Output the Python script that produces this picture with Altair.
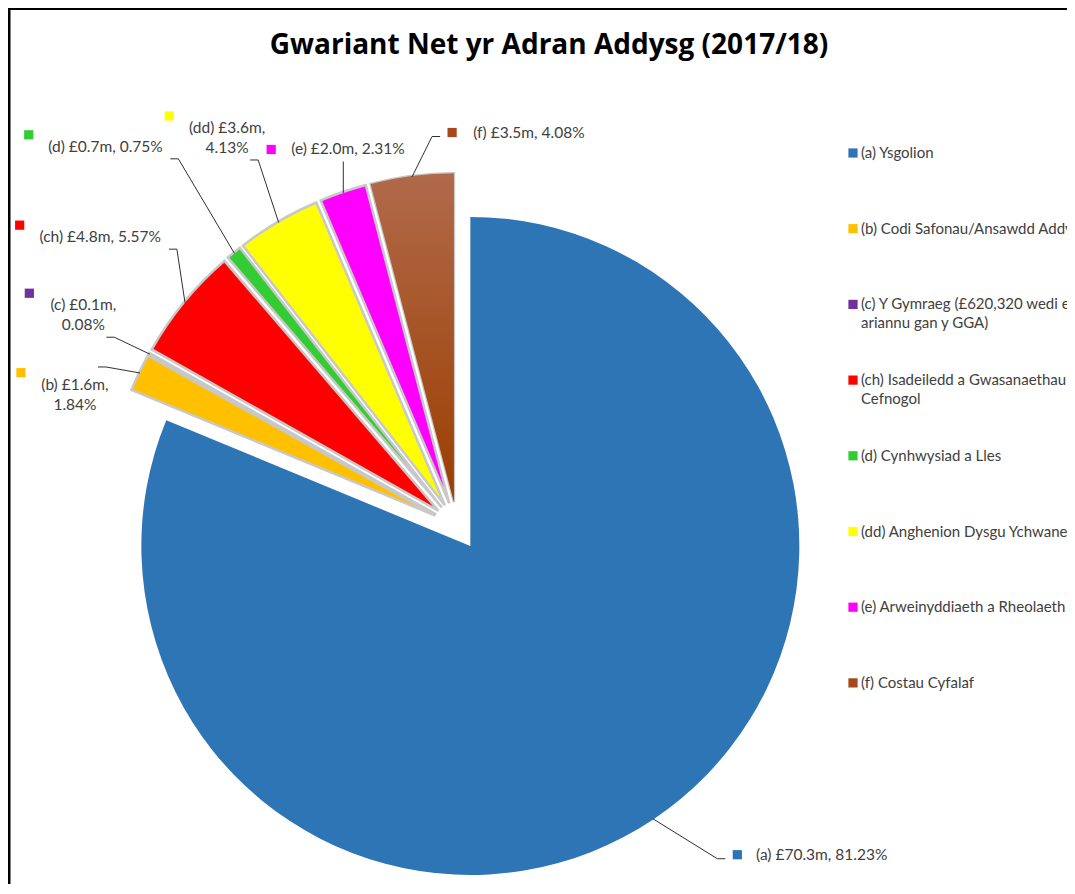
import math
import altair as alt
import pandas as pd

# ---------------- data ----------------
codes = ["(a)", "(b)", "(c)", "(ch)", "(d)", "(dd)", "(e)", "(f)"]
names = [
    "Ysgolion",
    "Codi Safonau/Ansawdd Addysg",
    "Y Gymraeg (£620,320 wedi ei\nariannu gan y GGA)",
    "Isadeiledd a Gwasanaethau\nCefnogol",
    "Cynhwysiad a Lles",
    "Anghenion Dysgu Ychwanegol",
    "Arweinyddiaeth a Rheolaeth",
    "Costau Cyfalaf",
]
spend_m = [70.3, 1.6, 0.1, 4.8, 0.7, 3.6, 2.0, 3.5]
share_pct = [81.23, 1.84, 0.08, 5.57, 0.75, 4.13, 2.31, 4.08]
colors = ["#2E75B6", "#FFC000", "#7030A0", "#FF0000", "#33CC33", "#FFFF00", "#FF00FF", "#A5481C"]
title_text = "Gwariant Net yr Adran Addysg (2017/18)"

# ---------------- layout (chart pixel coordinates) ----------------
W, H = 1059, 876
CX, CY = 449, 518          # pie centre
RADIUS = 329
EXPLODE = 24
LEADER_R = RADIUS + EXPLODE - 1
FONT = "Lato"
LBL_SIZE = 15.5
CHAR_W = 7.6
LINE_H = 20
label_shift_deg = {"(a)": -14.2, "(b)": -6.8, "(c)": 0.2, "(ch)": -0.4,
                   "(d)": -3.6, "(dd)": -0.2, "(e)": 2.7, "(f)": 17.7}
label_dist = {"(a)": 491, "(b)": 404, "(c)": 429, "(ch)": 459,
              "(d)": 517, "(dd)": 451, "(e)": 392, "(f)": 400}
two_line = {"(b)", "(c)", "(dd)"}
key_above = {"(b)", "(c)", "(ch)", "(d)", "(dd)"}
LEG_X, LEG_Y0, LEG_STEP = 845, 145, 75.7

total = sum(share_pct)
arc_rows, lead_rows, lbl_rows, key_rows, leg_rows = [], [], [], [], []
cum = 0.0
for i, (c, v, p) in enumerate(zip(codes, spend_m, share_pct)):
    start, end = cum, cum + p
    cum = end
    mid = (start + end) / 2 / total * 2 * math.pi
    sx, sy = math.sin(mid), -math.cos(mid)
    arc_rows.append(dict(code=c, idx=i, start=start, end=end,
                         cx=CX + EXPLODE * sx, cy=CY + EXPLODE * sy))
    sep = "\n" if c in two_line else " "
    text = f"{c} £{v:.1f}m,{sep}{p:.2f}%"
    lines = text.split("\n")
    n = len(lines)
    la = mid + math.radians(label_shift_deg[c])
    tcx = CX + label_dist[c] * math.sin(la)
    tcy = CY - label_dist[c] * math.cos(la)
    halfw = max(len(s) for s in lines) * CHAR_W / 2
    first_y = tcy - (n - 1) * LINE_H / 2
    last_y = first_y + (n - 1) * LINE_H
    lbl_rows.append(dict(code=c, text=text, tx=tcx, ty=first_y + 5))
    left = tcx - halfw
    key_rows.append(dict(code=c, kx=left - 16, ky=first_y - (12 if c in key_above else 0)))
    Sx, Sy = CX + LEADER_R * sx, CY + LEADER_R * sy
    pts = [(Sx, Sy)]
    if left > Sx:
        ex, ey = left - 28, first_y + 4
        pts += [(ex - 8, ey), (ex, ey)]
    elif abs(tcx - Sx) < halfw:
        pts += [(Sx, last_y + 12)]
    else:
        last_right = tcx + len(lines[-1]) * CHAR_W / 2
        ex = last_right + 4
        ey = min(last_y + 12, Sy - 6)
        pts += [(ex + 8, ey), (ex, ey)]
    for k, (px, py) in enumerate(pts):
        lead_rows.append(dict(code=c, seq=k, lx=px, ly=py))
    leg_rows.append(dict(code=c, name=f"{c} {names[i]}", gx=LEG_X,
                         gy=LEG_Y0 + i * LEG_STEP))

arcs = pd.DataFrame(arc_rows)
leads = pd.DataFrame(lead_rows)
lbls = pd.DataFrame(lbl_rows)
keys = pd.DataFrame(key_rows)
leg = pd.DataFrame(leg_rows)

color = alt.Color("code:N", scale=alt.Scale(domain=codes, range=colors), legend=None)
theta = alt.Theta("start:Q", scale=alt.Scale(domain=[0, total], range=[0, 2 * math.pi]))

pie = alt.Chart(arcs).mark_arc(outerRadius=RADIUS, stroke="#C8C8C8").encode(
    theta=theta, theta2="end:Q",
    x=alt.X("cx:Q", scale=None, stack=False),
    y=alt.Y("cy:Q", scale=None, stack=False),
    color=color,
    strokeWidth=alt.condition(alt.datum.code == "(a)", alt.value(0), alt.value(2.5)),
)

brown = alt.Chart(arcs).transform_filter(alt.datum.code == "(f)").mark_arc(
    outerRadius=RADIUS,
    fill=alt.LinearGradient(gradient="linear", x1=0, x2=0, y1=0, y2=1,
                            stops=[alt.GradientStop(color="#B06A4A", offset=0),
                                   alt.GradientStop(color="#9C3E00", offset=1)]),
).encode(theta=theta, theta2="end:Q",
         x=alt.X("cx:Q", scale=None, stack=False),
         y=alt.Y("cy:Q", scale=None, stack=False))

leaders = alt.Chart(leads).mark_line(color="#303030", strokeWidth=1).encode(
    x=alt.X("lx:Q", scale=None, stack=False),
    y=alt.Y("ly:Q", scale=None, stack=False),
    detail="code:N", order="seq:Q",
)

labels = alt.Chart(lbls).mark_text(
    align="center", baseline="alphabetic", lineBreak="\n", lineHeight=LINE_H,
    font=FONT, fontSize=LBL_SIZE, color="#404040",
).encode(x=alt.X("tx:Q", scale=None, stack=False),
         y=alt.Y("ty:Q", scale=None, stack=False), text="text:N")

label_keys = alt.Chart(keys).mark_square(size=85, opacity=1).encode(
    x=alt.X("kx:Q", scale=None, stack=False),
    y=alt.Y("ky:Q", scale=None, stack=False), color=color,
)

leg_keys = alt.Chart(leg).mark_square(size=85, opacity=1).encode(
    x=alt.X("gx:Q", scale=None, stack=False),
    y=alt.Y("gy:Q", scale=None, stack=False), color=color,
)
leg_text = alt.Chart(leg).mark_text(
    align="left", baseline="alphabetic", lineBreak="\n", lineHeight=19,
    font=FONT, fontSize=15, color="#404040", dx=8, dy=5,
).encode(x=alt.X("gx:Q", scale=None, stack=False),
         y=alt.Y("gy:Q", scale=None, stack=False), text="name:N")

title = alt.Chart(pd.DataFrame({"t": [title_text], "x": [541], "y": [38]})).mark_text(
    align="center", baseline="middle", font="Open Sans", fontSize=28, fontWeight="bold",
    color="#000000",
).encode(x=alt.X("x:Q", scale=None), y=alt.Y("y:Q", scale=None), text="t:N")

frame_df = pd.DataFrame({"f": [0]})
left_border = alt.Chart(frame_df).mark_rule(color="#000000", strokeWidth=3).encode(
    x=alt.value(1), y=alt.value(0), y2=alt.value(H))
top_border = alt.Chart(frame_df).mark_rule(color="#000000", strokeWidth=3).encode(
    x=alt.value(0), x2=alt.value(W), y=alt.value(0.5))

chart = alt.layer(pie, brown, leaders, labels, label_keys, leg_keys, leg_text, title,
                  left_border, top_border).properties(
    width=W, height=H, padding=0, autosize=alt.AutoSizeParams(type="none"),
    background="white",
).configure_view(strokeWidth=0)

chart.save("out.html", embed_options={"renderer": "svg", "actions": False})
